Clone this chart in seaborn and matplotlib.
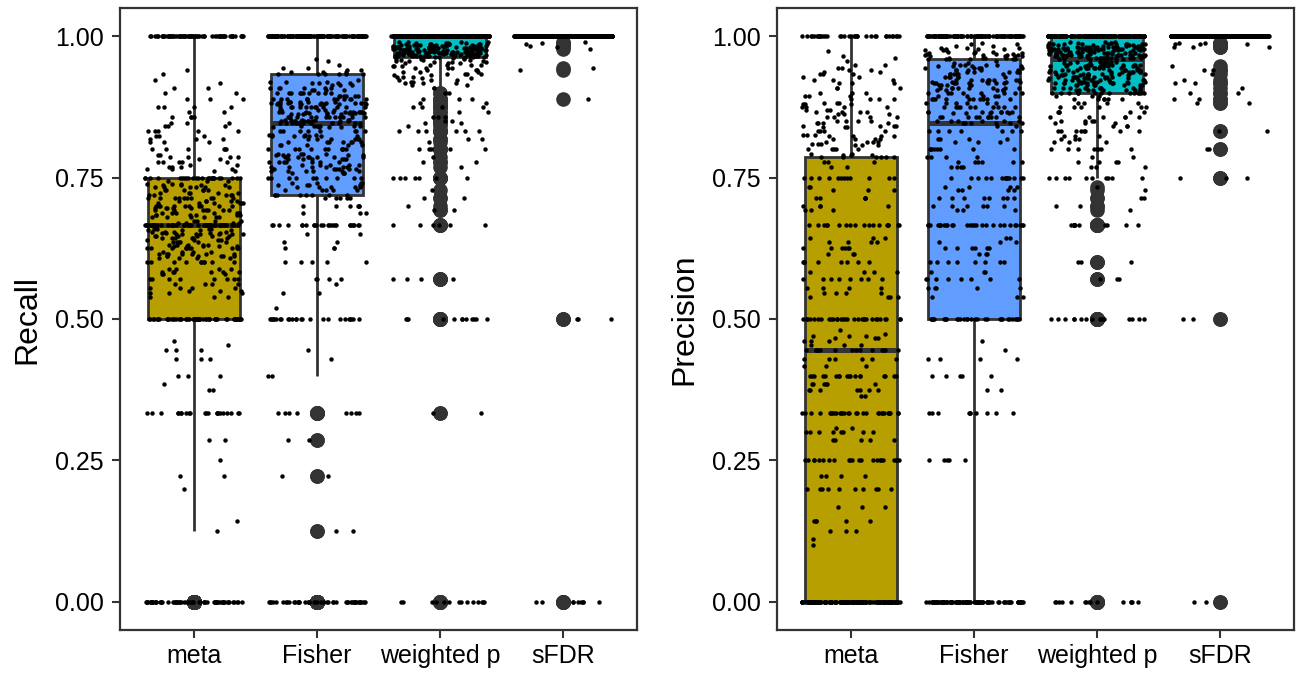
import numpy as np
import pandas as pd
import matplotlib
matplotlib.use("Agg")
import matplotlib.pyplot as plt
import seaborn as sns

# ---------------- categories / styling lists ----------------
methods = ["meta", "Fisher", "weighted p", "sFDR"]
box_colors = ["#B79F00", "#619CFF", "#00BFC4", "#F564E3"]
y_ticks = [0.0, 0.25, 0.5, 0.75, 1.0]
y_tick_labels = ["0.00", "0.25", "0.50", "0.75", "1.00"]
panel_titles = ["Recall", "Precision"]

# ---------------- Recall data (value -> number of simulations) ----------------
meta_recall_values = [0.0, 0.125, 0.1429, 0.2, 0.2222, 0.25, 0.2857, 0.3333, 0.375, 0.3846, 0.4, 0.4286, 0.4444, 0.4545, 0.4615,
                      0.5, 0.5385, 0.5455, 0.55, 0.5556, 0.5625, 0.5714, 0.5789, 0.5833, 0.5882, 0.6, 0.6087, 0.6111, 0.6154,
                      0.619, 0.625, 0.6296, 0.6316, 0.6364, 0.64, 0.6429, 0.6471, 0.65, 0.6522, 0.6538, 0.6571, 0.66,
                      0.6667, 0.6705, 0.6735, 0.68, 0.6842, 0.6875, 0.6923, 0.6957, 0.7, 0.7059, 0.7083, 0.7143, 0.72, 0.7222,
                      0.7273, 0.7333, 0.7368, 0.7391, 0.7436,
                      0.75, 0.7619, 0.7647, 0.7692, 0.7727, 0.7778, 0.7826, 0.7857, 0.7895, 0.8, 0.8125, 0.8182, 0.8235, 0.8333,
                      0.8421, 0.8462, 0.8571, 0.8667, 0.875, 0.8889, 0.9, 0.9091, 0.9167, 0.9231, 0.9333, 0.9412, 1.0]
meta_recall_counts = [60, 1, 1, 1, 2, 1, 2, 22, 2, 1, 3, 3, 3, 1, 1,
                      55, 3, 3, 3, 4, 4, 8, 3, 6, 4, 10, 4, 6, 7,
                      4, 10, 5, 5, 6, 4, 6, 6, 7, 4, 4, 4, 4,
                      45, 4, 4, 6, 6, 7, 7, 5, 10, 6, 5, 10, 5, 5,
                      6, 6, 4, 3, 3,
                      25, 2, 3, 3, 2, 5, 2, 4, 2, 6, 3, 3, 3, 5,
                      3, 3, 4, 2, 4, 3, 2, 2, 1, 1, 1, 1, 65]

fisher_recall_values = [0.0, 0.125, 0.2222, 0.2857, 0.3333, 0.4, 0.4286, 0.4444, 0.5, 0.52, 0.5455, 0.5625, 0.5714, 0.6, 0.625,
                        0.6364, 0.65, 0.6667, 0.6875, 0.7, 0.7143,
                        0.7188,
                        0.7273, 0.7333, 0.7368, 0.7407, 0.75, 0.7586, 0.7619, 0.7647, 0.7692, 0.7727, 0.7778, 0.7826, 0.7857,
                        0.7895, 0.7917, 0.8, 0.8077, 0.8125, 0.8182, 0.8235, 0.8261, 0.8333, 0.8387, 0.8421,
                        0.8462,
                        0.85, 0.8519, 0.8571, 0.8621, 0.8636, 0.8667, 0.8696, 0.875, 0.88, 0.8824, 0.8846, 0.8889, 0.8947, 0.9,
                        0.9048, 0.9091, 0.913, 0.9167, 0.92, 0.9231,
                        0.9333,
                        0.9375, 0.9412, 0.9444, 0.95, 0.9565, 0.96, 1.0]
fisher_recall_counts = [45, 2, 2, 2, 8, 2, 1, 1, 25, 1, 2, 1, 4, 5, 3,
                        2, 2, 25, 3, 6, 5,
                        8,
                        5, 5, 5, 4, 10, 4, 6, 6, 6, 5, 7, 6, 7,
                        5, 4, 10, 5, 7, 6, 6, 4, 8, 4, 6,
                        12,
                        10, 6, 14, 6, 6, 10, 6, 12, 8, 8, 6, 12, 6, 10,
                        4, 6, 3, 4, 3, 1,
                        6,
                        3, 2, 2, 1, 1, 1, 135]

wp_recall_values = [0.0, 0.3333, 0.5, 0.5714, 0.6667, 0.6923, 0.7, 0.7143, 0.7273, 0.75, 0.7692, 0.7778, 0.7857, 0.8, 0.8125,
                    0.8182, 0.8333, 0.8421, 0.8462, 0.85, 0.8571, 0.8667, 0.875, 0.8824, 0.8889, 0.9,
                    0.9091, 0.913, 0.9167, 0.92, 0.9231, 0.9259, 0.9286, 0.931, 0.9333, 0.9375, 0.9412, 0.9444, 0.9474,
                    0.95, 0.9524, 0.9545, 0.9565, 0.9583, 0.96, 0.9615,
                    0.963,
                    0.9643, 0.9655, 0.9667, 0.9688, 0.9697, 0.9706, 0.9714, 0.973, 0.9744, 0.975, 0.9762, 0.9773, 0.978,
                    0.9787, 0.98, 0.9804, 0.9815, 0.9818, 0.9821, 0.9825, 0.9836, 0.9841, 0.9848, 0.9853, 0.9857, 0.9865,
                    0.9872, 0.9878, 0.9884, 0.989, 0.99, 1.0]
wp_recall_counts = [14, 2, 12, 4, 6, 2, 1, 2, 1, 7, 1, 2, 1, 5, 1,
                    2, 6, 1, 2, 2, 3, 2, 4, 2, 3, 2,
                    2, 2, 3, 2, 3, 2, 3, 2, 4, 3, 3, 4, 3,
                    4, 3, 3, 3, 3, 3, 2,
                    6,
                    8, 6, 10, 8, 6, 8, 6, 8, 5, 8, 5, 5, 5,
                    4, 8, 4, 4, 3, 3, 3, 3, 3, 3, 3, 3, 3,
                    2, 2, 2, 2, 2, 302]

sfdr_recall_values = [0.0, 0.5, 0.8889, 0.9412, 0.9444, 0.9767, 0.9818, 0.9828, 0.9857, 0.9888, 0.9901, 1.0]
sfdr_recall_counts = [9, 3, 1, 1, 1, 1, 1, 1, 1, 1, 1, 579]

# ---------------- Precision data ----------------
meta_precision_values = [0.0, 0.1, 0.1111, 0.125, 0.1429, 0.1667, 0.2, 0.2222, 0.25, 0.2857, 0.3, 0.3077, 0.3333, 0.3636,
                         0.375, 0.3846, 0.4, 0.4167, 0.4286,
                         0.4444,
                         0.4545, 0.4615, 0.4667, 0.4706, 0.4737, 0.48, 0.5, 0.5385, 0.5455, 0.5556, 0.5714, 0.5833, 0.6,
                         0.6154, 0.625, 0.6364, 0.6429, 0.6667, 0.6923, 0.7, 0.7143, 0.7273, 0.7333, 0.75, 0.7692, 0.7778,
                         0.7857,
                         0.7895, 0.7917, 0.8, 0.8077, 0.8095, 0.8125, 0.8182, 0.8235, 0.8261, 0.8333, 0.8387, 0.8421, 0.8462,
                         0.85, 0.8571, 0.8621, 0.8667, 0.8696, 0.875, 0.88, 0.8824, 0.8889, 0.8947, 0.9, 0.9091, 0.9167,
                         0.9231, 0.9286, 0.9333, 0.9375, 0.9412, 0.9444, 0.95, 0.9565, 0.9615, 0.9655, 0.9737, 1.0]
meta_precision_counts = [155, 1, 1, 3, 5, 3, 10, 4, 22, 5, 8, 2, 30, 2,
                         7, 6, 18, 3, 6,
                         14,
                         3, 3, 3, 3, 1, 1, 30, 4, 4, 4, 8, 4, 8,
                         3, 6, 4, 3, 18, 3, 4, 5, 3, 2, 12, 2, 3,
                         6,
                         3, 2, 5, 3, 3, 4, 4, 4, 3, 4, 3, 4, 4,
                         4, 4, 3, 4, 3, 4, 3, 3, 4, 3, 3, 3, 3,
                         3, 2, 3, 2, 2, 2, 2, 1, 1, 1, 1, 35]

fisher_precision_values = [0.0, 0.25, 0.3333, 0.375, 0.4, 0.4286, 0.4444, 0.4615,
                           0.5,
                           0.5385, 0.5556, 0.5714, 0.5833, 0.6, 0.6154, 0.625, 0.6364, 0.6429, 0.6667, 0.6923, 0.7, 0.7143,
                           0.7273, 0.7333, 0.75, 0.7692, 0.7778, 0.7857, 0.8, 0.8125, 0.8182, 0.8333, 0.8421,
                           0.8462,
                           0.85, 0.8571, 0.8636, 0.8667, 0.875, 0.8824, 0.8889, 0.8947, 0.9, 0.9048, 0.9091, 0.913, 0.9167,
                           0.92, 0.9231, 0.9286, 0.9333, 0.9375, 0.9412, 0.9444, 0.9474, 0.95, 0.9524, 0.9565,
                           0.96,
                           0.9615, 0.9643, 0.9667, 0.9688, 0.9706, 0.9722, 0.975, 0.9767, 0.98, 0.9831, 0.9857, 0.9889, 1.0]
fisher_precision_counts = [95, 5, 10, 2, 5, 4, 1, 1,
                           30,
                           3, 5, 8, 3, 8, 3, 6, 3, 2, 28, 3, 6, 8,
                           4, 4, 14, 4, 6, 4, 8, 3, 4, 7, 2,
                           6,
                           6, 10, 4, 8, 10, 6, 10, 5, 8, 5, 8, 5, 8,
                           5, 8, 6, 6, 5, 5, 5, 4, 4, 2, 1,
                           6,
                           4, 4, 4, 3, 3, 3, 3, 3, 3, 2, 2, 1, 110]

wp_precision_values = [0.0, 0.5, 0.5714, 0.6, 0.6667, 0.6923, 0.7, 0.7143, 0.7273, 0.7333,
                       0.75, 0.7692, 0.7778, 0.7857, 0.8, 0.8125, 0.8182, 0.8235, 0.8333, 0.8421, 0.8462, 0.85, 0.8571,
                       0.8667, 0.875, 0.8824, 0.8889, 0.8947,
                       0.9,
                       0.9048, 0.9091, 0.913, 0.9167, 0.92, 0.9231, 0.9259, 0.9286, 0.931, 0.9333, 0.9375, 0.9412, 0.9444,
                       0.9474, 0.95, 0.9524, 0.9545,
                       0.96,
                       0.9615, 0.9643, 0.9655, 0.9667, 0.9688, 0.9706, 0.973, 0.975, 0.9756, 0.9767, 0.9783, 0.98, 0.9804,
                       0.9818, 0.9831, 0.9848, 0.9857, 0.9872, 0.9889, 0.99, 1.0]
wp_precision_counts = [15, 15, 3, 3, 12, 1, 2, 2, 1, 1,
                       10, 3, 4, 2, 8, 3, 3, 3, 8, 3, 3, 4, 6,
                       5, 6, 4, 6, 3,
                       14,
                       8, 10, 8, 10, 8, 10, 6, 10, 6, 10, 10, 10, 10,
                       8, 10, 6, 6,
                       6,
                       10, 10, 6, 12, 8, 10, 8, 10, 4, 8, 6, 10, 5,
                       5, 4, 5, 5, 4, 4, 3, 158]

sfdr_precision_values = [0.0, 0.5, 0.75, 0.8, 0.8333, 0.8824, 0.8889, 0.9, 0.9091, 0.9167, 0.9231, 0.9333, 0.9412, 0.9474,
                         0.9818, 0.9857, 0.9881, 1.0]
sfdr_precision_counts = [2, 2, 3, 2, 2, 2, 2, 2, 1, 2, 1, 1, 2, 1, 3, 3, 2, 567]

recall_groups = [(meta_recall_values, meta_recall_counts), (fisher_recall_values, fisher_recall_counts),
                 (wp_recall_values, wp_recall_counts), (sfdr_recall_values, sfdr_recall_counts)]
precision_groups = [(meta_precision_values, meta_precision_counts), (fisher_precision_values, fisher_precision_counts),
                    (wp_precision_values, wp_precision_counts), (sfdr_precision_values, sfdr_precision_counts)]


def build(groups):
    frames = []
    for m, (vals, cnts) in zip(methods, groups):
        v = np.repeat(np.asarray(vals, float), np.asarray(cnts, int))
        frames.append(pd.DataFrame({"method": m, "value": v}))
    df = pd.concat(frames, ignore_index=True)
    df["method"] = pd.Categorical(df["method"], categories=methods, ordered=True)
    return df


sns.set_theme(style="white")
plt.rcParams["font.family"] = ["Liberation Sans", "DejaVu Sans"]

W, H = 1299, 673
fig = plt.figure(figsize=(W / 100, H / 100), dpi=100)


def px_axes(x0, x1, y0, y1):
    return fig.add_axes([x0 / W, 1 - y1 / H, (x1 - x0) / W, (y1 - y0) / H])


ax1 = px_axes(120.1, 637.0, 8, 630)
ax2 = px_axes(777.2, 1293.8, 8, 630)

line_col = "#333333"

for ax, groups, title, seed, lab_x in [(ax1, recall_groups, panel_titles[0], 11, -0.1505),
                                        (ax2, precision_groups, panel_titles[1], 23, -0.150)]:
    df = build(groups)
    sns.boxplot(data=df, x="method", y="value", hue="method", order=methods, hue_order=methods,
                palette=box_colors, saturation=1, width=0.75, linecolor=line_col, linewidth=2.0,
                fliersize=9.5, showcaps=False, legend=False, dodge=False,
                medianprops={"linewidth": 3.6, "color": line_col},
                flierprops={"marker": "o", "markerfacecolor": line_col, "markeredgecolor": line_col},
                ax=ax)
    # thicken the median segments (horizontal lines spanning the box width)
    for ln in ax.lines:
        xd = np.asarray(ln.get_xdata(), float)
        yd = np.asarray(ln.get_ydata(), float)
        if len(xd) == 2 and abs(xd[1] - xd[0]) > 0.5 and yd[0] == yd[1]:
            ln.set_linewidth(3.6)
            ln.set_solid_capstyle("butt")
    np.random.seed(seed)
    sns.stripplot(data=df, x="method", y="value", order=methods, color="black", size=3.2,
                  jitter=0.4, linewidth=0, ax=ax, zorder=4)

    ax.set_xlim(-0.6, 3.6)
    ax.set_ylim(-0.05, 1.05)
    ax.set_yticks(y_ticks)
    ax.set_yticklabels(y_tick_labels)
    ax.set_xlabel("")
    ax.set_ylabel(title, fontsize=23, color="black")
    ax.yaxis.set_label_coords(lab_x, 0.5)
    ax.grid(False)
    ax.set_facecolor("white")
    for sp in ax.spines.values():
        sp.set_visible(True)
        sp.set_color(line_col)
        sp.set_linewidth(1.6)
    ax.tick_params(axis="both", which="major", direction="out", length=5.5, width=1.5,
                   color=line_col, labelsize=18, labelcolor="black", left=True, bottom=True)
    ax.tick_params(axis="y", pad=6.5)
    ax.tick_params(axis="x", pad=4.5)

fig.savefig("out.png", dpi=100, facecolor="white")
